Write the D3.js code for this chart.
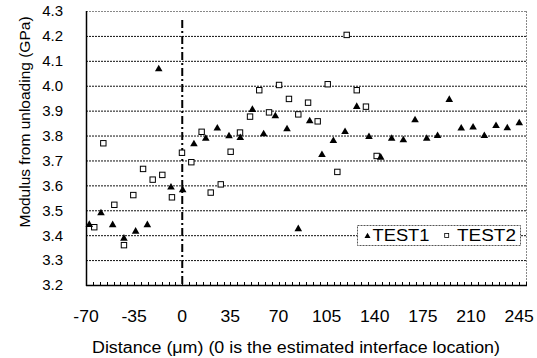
<!DOCTYPE html>
<html>
<head>
<meta charset="utf-8">
<script src="https://cdn.jsdelivr.net/npm/d3@7"></script>
<style>
  html, body { margin: 0; padding: 0; background: #fff; }
  svg { display: block; font-family: "Liberation Sans", Arial, sans-serif; }
</style>
</head>
<body>
<svg id="chart" width="537" height="358"></svg>
<script>
// ---- data ----
const test1X = [-67.6, -59.1, -50.6, -42.4, -33.9, -25.4, -17.1, -8.2, 0.3, 8.5, 17.1, 25.5, 34, 42.2, 51, 59.2, 67.7, 76.2, 84.4, 92.7, 101.6, 109.9, 118.4, 126.9, 135.8, 144.3, 152.3, 160.8, 169.3, 177.8, 185.7, 194.2, 202.9, 211.5, 219.7, 228.2, 236.4, 245.1];
const test1Y = [3.445, 3.492, 3.444, 3.39, 3.418, 3.444, 4.07, 3.595, 3.584, 3.769, 3.791, 3.832, 3.801, 3.794, 3.907, 3.809, 3.881, 3.829, 3.428, 3.861, 3.726, 3.782, 3.818, 3.919, 3.798, 3.715, 3.791, 3.785, 3.865, 3.791, 3.802, 3.947, 3.832, 3.836, 3.802, 3.842, 3.833, 3.853];
const test2X = [-64, -57.4, -49.4, -42.4, -35.6, -28.5, -21.5, -14.5, -7.5, -0.2, 6.6, 14.1, 20.7, 28, 35.2, 42, 49.3, 56, 63.1, 70.4, 77.6, 84.4, 91.5, 98.5, 105.8, 112.8, 119.6, 126.9, 133.6, 141.4];
const test2Y = [3.432, 3.769, 3.522, 3.36, 3.561, 3.666, 3.623, 3.642, 3.552, 3.731, 3.693, 3.815, 3.571, 3.604, 3.735, 3.812, 3.876, 3.982, 3.893, 4.003, 3.947, 3.885, 3.932, 3.857, 4.006, 3.654, 4.204, 3.982, 3.916, 3.718];
const xTicks = [-70, -35, 0, 35, 70, 105, 140, 175, 210, 245];
const yTicks = [3.2, 3.3, 3.4, 3.5, 3.6, 3.7, 3.8, 3.9, 4.0, 4.1, 4.2, 4.3];
const seriesNames = ["TEST1", "TEST2"];
const interfaceX = 0;
const xDomain = [-70, 250];
const yDomain = [3.2, 4.3];

// ---- layout ----
const L = 86, R = 526, T = 11, B = 285;
const svg = d3.select("#chart");
const x = d3.scaleLinear().domain(xDomain).range([L, R]);
const y = d3.scaleLinear().domain(yDomain).range([B, T]);

// gridlines
svg.append("g").selectAll("line").data(yTicks.filter(v => v > 3.21 && v < 4.29)).join("line")
  .attr("x1", L).attr("x2", R)
  .attr("y1", d => y(d) + 0.5).attr("y2", d => y(d) + 0.5)
  .attr("stroke", "#111").attr("stroke-width", 1).attr("stroke-dasharray", "2,1");

// top & right border (dotted grey)
svg.append("line").attr("x1", L).attr("x2", R).attr("y1", T + 0.5).attr("y2", T + 0.5)
  .attr("stroke", "#888").attr("stroke-dasharray", "2,1");
svg.append("line").attr("x1", R + 0.5).attr("x2", R + 0.5).attr("y1", T).attr("y2", B)
  .attr("stroke", "#888").attr("stroke-dasharray", "2,1");

// interface line
svg.append("line")
  .attr("x1", x(interfaceX)).attr("x2", x(interfaceX))
  .attr("y1", 20).attr("y2", B)
  .attr("stroke", "#000").attr("stroke-width", 2).attr("stroke-dasharray", "8,3,2,3");

// minor ticks on x axis (inside)
const minor = d3.range(xDomain[0], xDomain[1] + 0.01, 5);
svg.append("g").selectAll("line").data(minor).join("line")
  .attr("x1", d => Math.round(x(d)) + 0.5).attr("x2", d => Math.round(x(d)) + 0.5)
  .attr("y1", B).attr("y2", B - 3)
  .attr("stroke", "#000");

// axes lines
svg.append("line").attr("x1", L + 0.5).attr("x2", L + 0.5).attr("y1", T).attr("y2", B + 1)
  .attr("stroke", "#000").attr("stroke-width", 1.5);
svg.append("line").attr("x1", L).attr("x2", R + 1).attr("y1", B + 0.5).attr("y2", B + 0.5)
  .attr("stroke", "#000").attr("stroke-width", 1.5);

// y tick labels
svg.append("g").selectAll("text").data(yTicks).join("text")
  .attr("x", 63).attr("y", d => y(d)).attr("dy", "0.36em")
  .attr("text-anchor", "end").attr("font-size", 15).attr("fill", "#000")
  .text(d => d.toFixed(1));

// x tick labels
svg.append("g").selectAll("text").data(xTicks).join("text")
  .attr("transform", d => `translate(${x(d)},321.5) scale(1.1,1)`)
  .attr("text-anchor", "middle").attr("font-size", 16).attr("fill", "#000")
  .text(d => d);

// axis titles
svg.append("text").attr("transform", "translate(30,122) rotate(-90)")
  .attr("text-anchor", "middle").attr("font-size", 15.5).attr("fill", "#000")
  .text("Modulus from unloading (GPa)");
svg.append("text").attr("x", 92).attr("y", 353)
  .attr("font-size", 16).attr("fill", "#000")
  .attr("textLength", 408).attr("lengthAdjust", "spacingAndGlyphs")
  .text("Distance (\u03bcm) (0 is the estimated interface location)");

// markers
const tri = "M0,-3.6L3.8,3L-3.8,3Z";
svg.append("g").selectAll("rect").data(test2X.map((v, i) => [v, test2Y[i]])).join("rect")
  .attr("x", d => x(d[0]) - 2.7).attr("y", d => y(d[1]) - 2.7)
  .attr("width", 5.4).attr("height", 5.4)
  .attr("fill", "#fff").attr("stroke", "#000").attr("stroke-width", 1);
svg.append("g").selectAll("path").data(test1X.map((v, i) => [v, test1Y[i]])).join("path")
  .attr("d", tri)
  .attr("transform", d => `translate(${x(d[0])},${y(d[1])})`)
  .attr("fill", "#000");

// legend
const lg = svg.append("g");
lg.append("rect").attr("x", 357.5).attr("y", 225.5).attr("width", 163).attr("height", 20)
  .attr("fill", "#fff").attr("stroke", "#555").attr("stroke-dasharray", "2,1");
lg.append("path").attr("d", "M0,-2.8L3,2.4L-3,2.4Z").attr("transform", "translate(367.5,235.5)").attr("fill", "#000");
lg.append("text").attr("x", 372.5).attr("y", 235.5).attr("dy", "0.36em").attr("font-size", 16)
  .attr("textLength", 57).attr("lengthAdjust", "spacingAndGlyphs").text(seriesNames[0]);
lg.append("rect").attr("x", 444.7).attr("y", 233.5).attr("width", 4).attr("height", 4)
  .attr("fill", "#fff").attr("stroke", "#000").attr("stroke-width", 0.8);
lg.append("text").attr("x", 457).attr("y", 235.5).attr("dy", "0.36em").attr("font-size", 16)
  .attr("textLength", 59).attr("lengthAdjust", "spacingAndGlyphs").text(seriesNames[1]);
</script>
</body>
</html>
